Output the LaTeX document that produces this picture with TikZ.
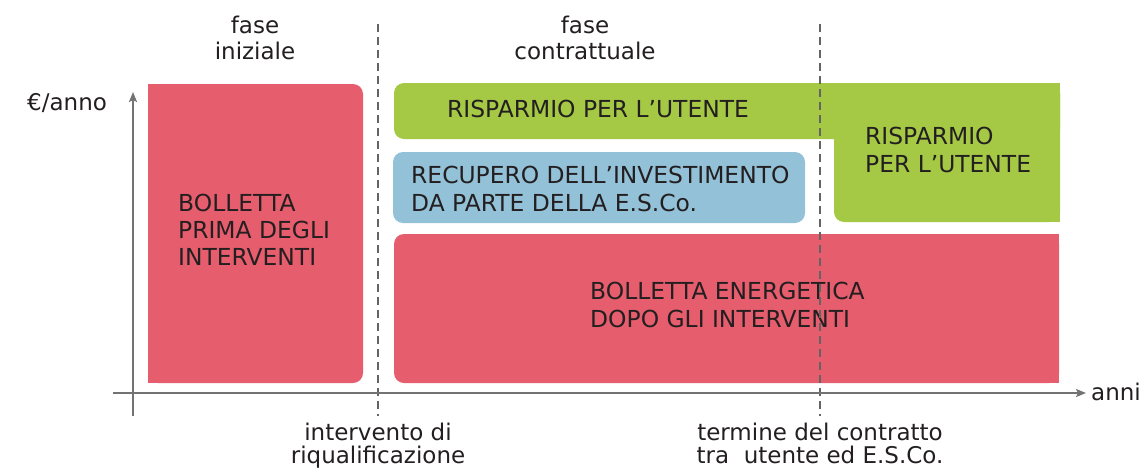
\documentclass[tikz,border=0pt]{standalone}
\usepackage{fontspec}
\setmainfont{DejaVu Sans}
\usetikzlibrary{arrows.meta}
\definecolor{boxred}{RGB}{230,93,109}
\definecolor{boxgreen}{RGB}{165,201,69}
\definecolor{boxblue}{RGB}{147,193,216}
\definecolor{axisgray}{RGB}{115,115,115}
\definecolor{guidegray}{RGB}{100,100,100}
\definecolor{txt}{RGB}{35,31,32}
\begin{document}
\begin{tikzpicture}[x=1pt,y=-1pt,
  boxtext/.style={anchor=base west, align=left, inner sep=0pt, text=txt, font=\fontsize{23.4}{28}\selectfont},
  toplbl/.style={anchor=base, align=center, inner sep=0pt, text=txt, font=\fontsize{23}{26}\selectfont},
  botlbl/.style={anchor=base, align=center, inner sep=0pt, text=txt, font=\fontsize{23}{23.5}\selectfont},
  axlbl/.style={anchor=base west, inner sep=0pt, text=txt, font=\fontsize{23}{28}\selectfont},
  guide/.style={draw=guidegray, line width=1.8pt, dash pattern=on 8pt off 5pt},
  axisline/.style={draw=axisgray, line width=2pt, -{Stealth[length=10pt,width=8pt,inset=2pt]}},
  rc/.style={rounded corners=10pt}]
\useasboundingbox (0,0) rectangle (1141,472);

% left red box (rounded on the right side)
\fill[boxred, rc] (148,84) rectangle (363,383);
\fill[boxred] (148,84) rectangle (200,383);

% green L-shape (rounded on the left)
\fill[boxgreen, rc] (394,83) rectangle (1060,139);
\fill[boxgreen] (450,83) rectangle (1060,139);
\fill[boxgreen, rc] (834,83) rectangle (1060,222);
\fill[boxgreen] (834,83) rectangle (1060,180);
\fill[boxgreen] (880,83) rectangle (1060,222);

% blue box
\fill[boxblue, rc] (393,152) rectangle (805,223);

% bottom red box (rounded on the left)
\fill[boxred, rc] (394,234) rectangle (1059,383);
\fill[boxred] (450,234) rectangle (1059,383);

% texts in boxes (anchor = baseline of the last line)
\node[boxtext, font=\fontsize{23.4}{27}\selectfont] (bprima) at (178,265) {BOLLETTA\\PRIMA DEGLI\\INTERVENTI};
\node[boxtext] (risp1) at (447,117) {RISPARMIO PER L’UTENTE};
\node[boxtext] (risp2) at (865,172) {RISPARMIO\\PER L’UTENTE};
\node[boxtext] (recup) at (411,211) {RECUPERO DELL’INVESTIMENTO\\DA PARTE DELLA E.S.Co.};
\node[boxtext] (bdopo) at (590,327) {BOLLETTA ENERGETICA\\DOPO GLI INTERVENTI};

% guide lines
\coordinate (g1top) at (378,24);
\coordinate (g1bot) at (378,416);
\coordinate (g2top) at (820,24);
\coordinate (g2bot) at (820,416);
\draw[guide] (g1top) -- (g1bot);
\draw[guide] (g2top) -- (g2bot);

% axes
\coordinate (yaxbot) at (133,416);
\coordinate (yaxtop) at (133,92);
\coordinate (xaxleft) at (113,393);
\coordinate (xaxright) at (1086,393);
\draw[axisline] (yaxbot) -- (yaxtop);
\draw[axisline] (xaxleft) -- (xaxright);

% axis labels
\node[axlbl] (eur) at (27,110) {€/anno};
\node[axlbl] (anni) at (1091,400) {anni};

% phase labels
\node[toplbl] (fini) at (255,59) {fase\\iniziale};
\node[toplbl] (fcon) at (585,59) {fase\\contrattuale};

% event labels
\node[botlbl] (interv) at (378,463.5) {intervento di\\riqualificazione};
\node[botlbl] (termine) at (820,463.5) {termine del contratto\\tra\ \ utente ed E.S.Co.};
\end{tikzpicture}
\end{document}
